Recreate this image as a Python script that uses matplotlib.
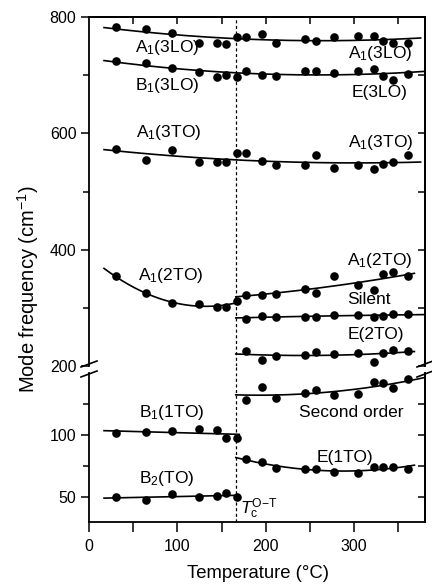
import matplotlib
matplotlib.use("Agg")
import matplotlib.pyplot as plt
import numpy as np

plt.rcParams["font.family"] = ["Liberation Sans", "DejaVu Sans"]
plt.rcParams["mathtext.fontset"] = "custom"
plt.rcParams["mathtext.rm"] = "Liberation Sans"
plt.rcParams["mathtext.it"] = "Liberation Sans:italic"

# temperatures (deg C)
t_all = [30, 64, 94, 124, 145, 155, 167, 177, 196, 211, 244, 257, 277, 304, 322, 333, 344, 361]
t_low = t_all[:7]
t_high = t_all[7:]
tc = 166

# upper panel (cm-1)
a1_3lo = [783, 779, 772, 756, 755, 753, 766, 766, 771, 755, 762, 758, 766, 768, 768, 758, 756, 756]
b1_3lo = [725, 721, 713, 706, 697, 700, 697, 707, 700, 699, 708, 708, 703, 708, 711, 699, 692, 702]
a1_3to = [573, 554, 571, 551, 551, 551, 566, 567, 553, 546, 545, 563, 540, 545, 539, 547, 550, 562]
a1_2to_low = [354, 325, 309, 306, 302, 302, 311]
a1_2to_high = [322, 322, 324, 332, 325, 354, 340, 331, 358, 361, 354]
silent = [281, 286, 285, 285, 285, 287, 288, 285, 286, 289, 289]
e_2to = [225, 211, 217, 219, 224, 221, 222, 207, 222, 228, 225]

# lower panel (cm-1)
second = [128, 139, 130, 134, 136, 132, 133, 143, 142, 138, 145]
e_1to = [80.6, 78, 73.6, 72.3, 72.3, 70.4, 69.6, 74, 74, 74, 73]
b1_1to = [101.4, 102.7, 103.2, 104.8, 104, 98, 98]
b2_to = [50.2, 47.6, 52.4, 50.2, 51, 53, 50.2]

# temperature span of each fitted curve
span_all = (17, 380)
span_all_short = (17, 375)
span_low = (17, 168)
span_high = (166, 368)
span_high_edge = (166, 380)

fig = plt.figure(figsize=(4.32, 5.85), dpi=100)
W, H = 432, 585
ax_top = fig.add_axes([89 / W, 1 - 366 / H, 336 / W, 349 / H])
ax_bot = fig.add_axes([89 / W, 1 - 522 / H, 336 / W, 149 / H])


def series(ax, t, v, span, deg=2):
    ax.plot(t, v, "o", color="k", ms=6.2, mew=0, zorder=3)
    c = np.polyfit(t, v, deg)
    xs = np.linspace(span[0], span[1], 200)
    ax.plot(xs, np.polyval(c, xs), color="k", lw=1.2, zorder=2)


series(ax_top, t_all, a1_3lo, span_all_short)
series(ax_top, t_all, b1_3lo, span_all)
series(ax_top, t_all, a1_3to, span_all_short)
series(ax_top, t_low, a1_2to_low, span_low)
series(ax_top, t_high, a1_2to_high, span_high)
series(ax_top, t_high, silent, span_high_edge)
series(ax_top, t_high, e_2to, span_high)
series(ax_bot, t_high, second, (166, 390))
series(ax_bot, t_high, e_1to, span_high)
series(ax_bot, t_low, b1_1to, (17, 170), deg=1)
series(ax_bot, t_low, b2_to, span_low, deg=1)

ax_top.set_ylim(200, 800)
ax_bot.set_ylim(30, 150)

for ax, major, minor in ((ax_top, [200, 400, 600, 800], [300, 500, 700]),
                         (ax_bot, [50, 100], [75, 125])):
    ax.axvline(tc, color="k", lw=0.9, ls=(0, (2.5, 2)), zorder=1)
    ax.set_xlim(0, 380)
    ax.set_yticks(major)
    ax.set_yticks(minor, minor=True)
    ax.tick_params(axis="both", which="major", direction="out", length=6, width=1.1,
                   labelsize=11.5, pad=3)
    ax.tick_params(axis="both", which="minor", direction="out", length=4, width=1.1)
    for s in ax.spines.values():
        s.set_linewidth(1.3)
    ry = ax.secondary_yaxis("right")
    ry.set_yticks(major)
    ry.set_yticks(minor, minor=True)
    ry.tick_params(which="both", direction="in", length=5, width=1.1, labelright=False)
    ry.spines["right"].set_linewidth(1.3)

ax_top.spines["bottom"].set_visible(False)
ax_top.tick_params(axis="x", which="both", bottom=False, labelbottom=False)
tx = ax_top.secondary_xaxis("top")
tx.set_xticks([50, 100, 150, 200, 250, 300, 350])
tx.tick_params(direction="in", length=5, width=1.1, labeltop=False)
tx.spines["top"].set_linewidth(1.3)

ax_bot.spines["top"].set_visible(False)
ax_bot.set_xticks([0, 100, 200, 300])
ax_bot.set_xticks([50, 150, 250, 350], minor=True)
ax_bot.tick_params(axis="x", which="both", length=7, pad=5)

# break marks
for xp in (89, 425):
    for yp in (364, 374):
        fig.add_artist(plt.Line2D([(xp - 8) / W, (xp + 8) / W],
                                  [1 - (yp + 3) / H, 1 - (yp - 3) / H],
                                  color="k", lw=1.2, transform=fig.transFigure))
# dashed Tc line through the gap
fig.add_artist(plt.Line2D([(89 + 336 * tc / 380) / W] * 2, [1 - 367 / H, 1 - 372 / H],
                          color="k", lw=0.9, ls=(0, (2.5, 2)), transform=fig.transFigure))

fs = 12.5
labels_top = [
    (52, 748, "A$_1$(3LO)"), (293, 738, "A$_1$(3LO)"),
    (52, 683, "B$_1$(3LO)"), (297, 671, "E(3LO)"),
    (53, 602, "A$_1$(3TO)"), (293, 585, "A$_1$(3TO)"),
    (55, 355, "A$_1$(2TO)"), (292, 382, "A$_1$(2TO)"),
    (292, 315, "Silent"), (292, 254, "E(2TO)"),
]
for x, y, s in labels_top:
    ax_top.text(x, y, s, fontsize=fs, ha="left", va="center")
labels_bot = [
    (238, 118.5, "Second order"), (57, 118.5, "B$_1$(1TO)"),
    (257, 82, "E(1TO)"), (57, 65, "B$_2$(TO)"),
]
for x, y, s in labels_bot:
    ax_bot.text(x, y, s, fontsize=fs, ha="left", va="center")
ax_bot.text(171, 41, r"$\mathit{T}_{\mathrm{c}}^{\mathrm{O{-}T}}$", fontsize=fs,
            ha="left", va="center")

fig.text(28 / W, 1 - 289 / H, "Mode frequency (cm$^{-1}$)", rotation=90,
         ha="center", va="center", fontsize=14.5)
fig.text(258 / W, 1 - 573 / H, "Temperature (°C)", ha="center", va="center",
         fontsize=13.3)

fig.savefig("out.png", dpi=100)
